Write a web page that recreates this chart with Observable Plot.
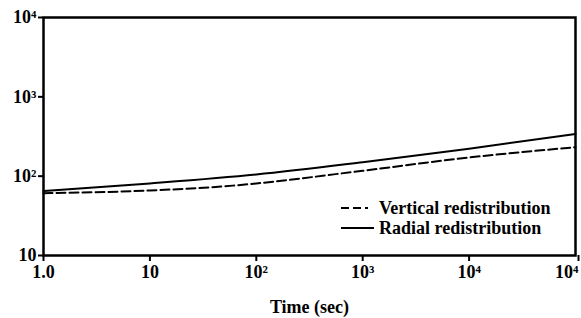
<!DOCTYPE html>
<html><head><meta charset="utf-8">
<script src="https://cdn.jsdelivr.net/npm/d3@7"></script>
<script src="https://cdn.jsdelivr.net/npm/@observablehq/plot@0.6"></script>
<style>body{margin:0;background:#fff}</style>
</head><body><div id="chart"></div>
<script>
const radialTime = [1, 10, 100, 1000, 10000, 100000];
const radialValue = [65, 81, 105, 150, 222, 340];
const verticalTime = [1, 10, 60, 100, 1000, 10000, 100000];
const verticalValue = [61, 66, 76, 81, 117, 172, 232];
const xTicks = [1, 10, 100, 1000, 10000, 100000];
const xTickLabels = ["1.0", "10", "10²", "10³", "10⁴", "10⁴"];
const yTicks = [10, 100, 1000, 10000];
const yTickLabels = ["10", "10²", "10³", "10⁴"];
const seriesNames = ["Vertical redistribution", "Radial redistribution"];

const radial = radialTime.map((t, i) => ({t, v: radialValue[i]}));
const vertical = verticalTime.map((t, i) => ({t, v: verticalValue[i]}));
const xLab = new Map(xTicks.map((d, i) => [d, xTickLabels[i]]));
const yLab = new Map(yTicks.map((d, i) => [d, yTickLabels[i]]));

function legend(index, scales, values, dimensions) {
  const {width, height, marginRight, marginBottom} = dimensions;
  const right = width - marginRight, bottom = height - marginBottom;
  const g = d3.create("svg:g");
  const rows = [
    {name: seriesNames[0], dash: "8,4,8,4,3", dy: 47},
    {name: seriesNames[1], dash: null, dy: 27}
  ];
  for (const r of rows) {
    const y = bottom - r.dy;
    const l = g.append("line").attr("x1", right - 234).attr("x2", right - 201)
      .attr("y1", y).attr("y2", y).attr("stroke", "black").attr("stroke-width", 2);
    if (r.dash) l.attr("stroke-dasharray", r.dash);
    g.append("text").attr("x", right - 196).attr("y", y).attr("dy", "0.32em")
      .attr("text-anchor", "start").attr("fill", "black").text(r.name);
  }
  return g.node();
}

const chart = Plot.plot({
  width: 581,
  height: 318,
  marginLeft: 43,
  marginRight: 6,
  marginTop: 17,
  marginBottom: 63,
  style: {fontFamily: "Liberation Serif", fontSize: "18px", fontWeight: "bold", color: "black", background: "white"},
  x: {type: "log", domain: [1, 100000]},
  y: {type: "log", domain: [10, 10000]},
  marks: [
    Plot.axisX(xTicks.slice(0, -1), {tickFormat: d => xLab.get(d), tickSize: 6, tickPadding: 4, strokeWidth: 2,
      label: "Time (sec)", labelAnchor: "center", labelArrow: "none", labelOffset: 57}),
    Plot.axisX(xTicks.slice(-1), {tickFormat: d => xLab.get(d), tickSize: 6, tickPadding: 4, strokeWidth: 2,
      textAnchor: "end", dx: 3, label: null}),
    Plot.axisY(yTicks, {tickFormat: d => yLab.get(d), tickSize: 5, tickPadding: 2, strokeWidth: 2, label: null}),
    Plot.line(vertical, {x: "t", y: "v", stroke: "black", strokeWidth: 2, strokeDasharray: "9,4", curve: "monotone-x"}),
    Plot.line(radial, {x: "t", y: "v", stroke: "black", strokeWidth: 2, curve: "monotone-x"}),
    Plot.frame({stroke: "black", strokeWidth: 2.5}),
    legend
  ]
});
document.getElementById("chart").append(chart);
</script>
</body></html>
